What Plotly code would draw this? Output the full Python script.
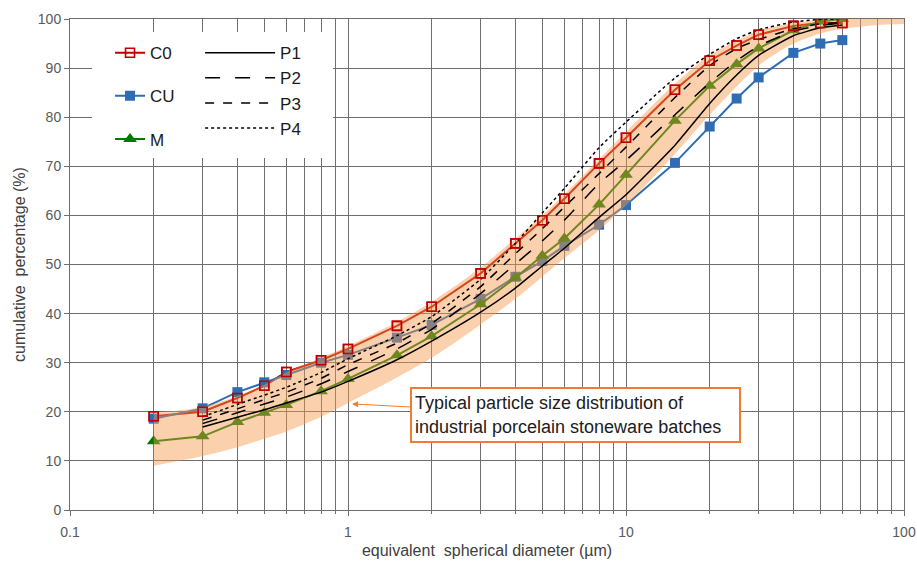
import plotly.graph_objects as go

# ---------------- data ----------------
sizes = [0.2, 0.3, 0.4, 0.5, 0.6, 0.8, 1, 1.5, 2, 3, 4, 5, 6, 8, 10, 15, 20, 25, 30, 40, 50, 60]
c0 = [19.1, 20.0, 22.8, 25.3, 28.1, 30.5, 32.8, 37.5, 41.4, 48.2, 54.3, 59.0, 63.4, 70.6, 75.8, 85.6, 91.5, 94.6, 96.8, 98.6, 99.2, 99.2]
cu = [18.6, 20.7, 24.0, 26.0, 27.5, 30.0, 31.6, 35.1, 37.7, 43.0, 47.5, 50.7, 53.8, 58.1, 62.1, 70.7, 78.1, 83.8, 88.1, 93.1, 95.0, 95.7]
m = [14.0, 15.0, 17.9, 19.8, 21.4, 24.2, 26.7, 31.5, 35.4, 41.9, 47.3, 51.8, 55.3, 62.2, 68.3, 79.3, 86.4, 90.8, 94.0, 97.7, 99.5, 100.0]

p_sizes = [0.3, 0.4, 0.5, 0.6, 0.8, 1, 1.5, 2, 3, 4, 5, 6, 8, 10, 15, 20, 25, 30, 40, 50, 60]
p1 = [16.9, 18.9, 20.4, 21.8, 24.0, 26.2, 30.6, 34.4, 40.3, 45.2, 49.7, 53.3, 59.6, 64.2, 74.3, 82.8, 88.6, 92.6, 96.6, 98.2, 98.8]
p2 = [17.6, 19.8, 21.6, 23.0, 25.7, 28.2, 32.8, 36.8, 44.1, 50.1, 54.8, 59.0, 66.5, 71.2, 80.5, 87.0, 91.5, 94.5, 97.5, 98.7, 99.2]
p3 = [18.3, 20.6, 22.5, 24.0, 26.8, 29.6, 34.0, 38.0, 45.5, 52.2, 57.3, 61.7, 68.5, 73.9, 84.0, 90.5, 94.0, 95.8, 98.0, 99.0, 99.3]
p4 = [19.0, 21.5, 23.4, 25.0, 28.0, 30.8, 35.5, 39.4, 47.0, 54.3, 60.5, 65.5, 73.8, 79.0, 88.0, 92.8, 96.0, 97.8, 99.4, 99.9, 100.0]

band_sizes = [0.2, 0.3, 0.4, 0.5, 0.6, 0.8, 1, 1.5, 2, 3, 4, 5, 6, 8, 10, 15, 20, 30, 40, 50, 60, 80, 100]
band_upper = [19.8, 21.0, 23.2, 25.5, 28.0, 31.0, 33.4, 38.3, 42.4, 49.4, 55.3, 60.0, 64.3, 71.5, 77.0, 86.8, 92.6, 97.6, 99.2, 99.8, 100.0, 100.0, 100.0]
band_lower = [9.0, 11.0, 12.8, 14.5, 16.0, 19.0, 21.8, 27.0, 31.0, 37.8, 43.0, 47.5, 51.3, 57.0, 62.0, 72.5, 80.5, 90.5, 95.0, 97.0, 98.0, 98.8, 99.0]

x_major = [0.1, 1, 10, 100]
x_major_labels = ["0.1", "1", "10", "100"]
x_minor = [k * d for d in (0.1, 1, 10) for k in range(2, 10)]

note_text = "Typical particle size distribution of<br>industrial porcelain stoneware batches"

# ---------------- style ----------------
FONT = "Arial, Liberation Sans, sans-serif"
GRID = "#6e6e6e"
RED = "#C00000"
BLUE = "#2E6DB4"
GREEN = "#007A00"
ORANGE = "#ED7D31"
BAND = "rgba(247,150,70,0.45)"

fig = go.Figure()

# series below the band
fig.add_trace(go.Scatter(x=sizes, y=c0, name="C0", mode="lines+markers", legend="legend",
                         legendgroup="c0",
                         line=dict(color=RED, width=2),
                         marker=dict(symbol="square-open", size=9, color=RED, line=dict(width=1.6, color=RED))))
fig.add_trace(go.Scatter(x=sizes, y=cu, name="CU", mode="lines+markers", legend="legend",
                         legendgroup="cu",
                         line=dict(color=BLUE, width=2),
                         marker=dict(symbol="square", size=10, color=BLUE)))
fig.add_trace(go.Scatter(x=sizes, y=m, name="M", mode="lines+markers", legend="legend",
                         legendgroup="m",
                         line=dict(color=GREEN, width=2),
                         marker=dict(symbol="triangle-up", size=12, color=GREEN)))

# typical band (translucent, drawn over the series)
fig.add_trace(go.Scatter(x=band_sizes, y=band_upper, mode="lines", showlegend=False,
                         line=dict(width=0, shape="spline", smoothing=0.8), hoverinfo="skip"))
fig.add_trace(go.Scatter(x=band_sizes, y=band_lower, mode="lines", showlegend=False,
                         fill="tonexty", fillcolor=BAND,
                         line=dict(width=0, shape="spline", smoothing=0.8), hoverinfo="skip"))

# reference curves
for name, vals, dash in (("P1", p1, "solid"), ("P2", p2, "longdash"), ("P3", p3, "dash"), ("P4", p4, "dot")):
    fig.add_trace(go.Scatter(x=p_sizes, y=vals, name=name, mode="lines", legend="legend2",
                             line=dict(color="black", width=1.5, dash=dash, shape="spline", smoothing=0.5)))

# C0 markers on top of the band
fig.add_trace(go.Scatter(x=sizes, y=c0, mode="markers", showlegend=False,
                         marker=dict(symbol="square-open", size=9, color=RED, line=dict(width=1.6, color=RED))))

# white box behind legends
fig.add_shape(type="rect", xref="paper", yref="paper", x0=0.0264, x1=0.3153, y0=0.717, y1=0.9735,
              fillcolor="white", line=dict(width=0), layer="above")

fig.add_annotation(x=0.0144, y=21.6, xref="x", yref="y", ax=0.8183, ay=19.25, axref="x", ayref="y",
                   text=note_text, showarrow=True, arrowhead=2, arrowsize=1, arrowwidth=1.2,
                   arrowcolor=ORANGE, align="left", width=321, height=46, borderpad=3,
                   bordercolor=ORANGE, borderwidth=2, bgcolor="white",
                   font=dict(family=FONT, size=18, color="#202020"))

axis_common = dict(showgrid=True, gridcolor=GRID, gridwidth=1, showline=True, linecolor=GRID,
                   linewidth=1, mirror=True, zeroline=False, ticks="outside", ticklen=5,
                   tickcolor=GRID, automargin=False,
                   tickfont=dict(family=FONT, size=14, color="#595959"))

fig.update_layout(
    width=917, height=564,
    margin=dict(l=70, r=13, t=19, b=54),
    paper_bgcolor="white", plot_bgcolor="white",
    font=dict(family=FONT, size=14, color="#404040"),
    xaxis=dict(type="log", range=[-1, 2], tickvals=x_major, ticktext=x_major_labels,
               ticklabelstandoff=4,
               minor=dict(tickvals=x_minor, ticks="outside", ticklen=3, tickcolor=GRID,
                          showgrid=True, gridcolor=GRID, gridwidth=1),
               title=dict(text="equivalent\u00a0 spherical diameter (µm)", standoff=6,
                          font=dict(family=FONT, size=16, color="#404040")),
               **axis_common),
    yaxis=dict(range=[0, 100], dtick=10,
               title=dict(text="cumulative\u00a0 percentage (%)", standoff=8,
                          font=dict(family=FONT, size=16, color="#404040")),
               **axis_common),
    legend=dict(x=0.048, y=0.967, xanchor="left", yanchor="top", bgcolor="rgba(0,0,0,0)",
                borderwidth=0, tracegroupgap=18, font=dict(family=FONT, size=17, color="#1a1a1a")),
    legend2=dict(x=0.156, y=0.967, xanchor="left", yanchor="top", bgcolor="rgba(0,0,0,0)",
                 borderwidth=0, itemwidth=70, font=dict(family=FONT, size=17, color="#1a1a1a")),
    showlegend=True,
)

fig.write_html("out.html")
